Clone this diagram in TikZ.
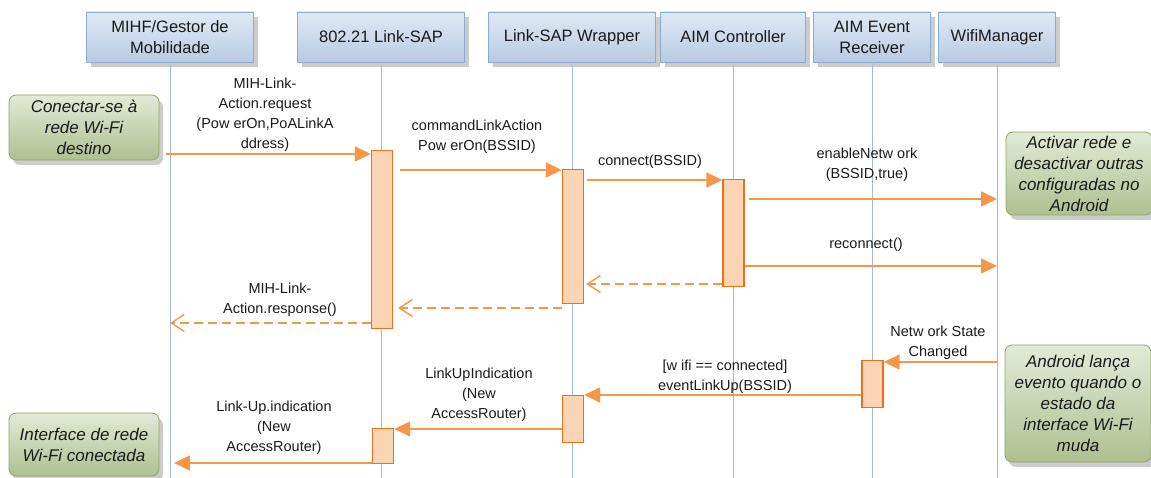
\documentclass[tikz,border=0pt]{standalone}
\usepackage{fontspec}
\setmainfont{Liberation Sans}
\usetikzlibrary{arrows.meta,shadows}

\definecolor{hdrTop}{HTML}{E0E9F4}
\definecolor{hdrMid}{HTML}{CCDAEC}
\definecolor{hdrBot}{HTML}{B8CBE3}
\definecolor{hdrLine}{HTML}{8FAAD0}
\definecolor{lifeCol}{HTML}{A3BAD8}
\definecolor{msgCol}{HTML}{F79646}
\definecolor{actFill}{HTML}{FBD4B4}
\definecolor{actLine}{HTML}{E8711A}
\definecolor{noteTop}{HTML}{E2EAD6}
\definecolor{noteMid}{HTML}{CAD7B4}
\definecolor{noteBot}{HTML}{AEC091}
\definecolor{noteLine}{HTML}{8FA46B}
\definecolor{txtCol}{HTML}{1A1A1A}

\begin{document}
\begin{tikzpicture}[x=1pt,y=-1pt,
  header/.style={draw=hdrLine, line width=0.8pt, top color=hdrTop, middle color=hdrMid,
    bottom color=hdrBot, minimum height=50pt, inner sep=2pt, align=center,
    text=txtCol, font=\fontsize{16.5}{21}\selectfont,
    drop shadow={shadow xshift=4pt, shadow yshift=-5pt, opacity=0.4}},
  lifeline/.style={draw=lifeCol, line width=0.9pt},
  actbox/.style={draw=actLine, fill=actFill, line width=1.4pt, minimum width=21pt,
    inner sep=0pt, anchor=north},
  msg/.style={draw=msgCol, line width=1.6pt, -{Triangle[length=16pt,width=15pt]}},
  ret/.style={draw=msgCol, line width=1.4pt, dash pattern=on 9pt off 5pt,
    -{Straight Barb[length=13pt,width=17pt]}},
  lbl/.style={align=center, text=txtCol, font=\fontsize{14.5}{20}\selectfont, inner sep=0pt},
  note/.style={draw=noteLine, line width=0.8pt, rounded corners=7pt,
    top color=noteTop, middle color=noteMid, bottom color=noteBot, align=center,
    inner sep=0pt, text=txtCol, font=\fontsize{17}{21}\itshape\selectfont,
    drop shadow={shadow xshift=4pt, shadow yshift=-5pt, opacity=0.4}}
]
\useasboundingbox (0,0) rectangle (1151,478);

% participants
\node[header, minimum width=167pt] (mihf) at (170,37) {MIHF/Gestor de\\Mobilidade};
\node[header, minimum width=167pt] (sap)  at (381,37) {802.21 Link-SAP};
\node[header, minimum width=167pt] (wrap) at (572,37) {Link-SAP Wrapper};
\node[header, minimum width=145pt] (ctrl) at (733,37) {AIM Controller};
\node[header, minimum width=117pt] (evt)  at (872,37) {AIM Event\\Receiver};
\node[header, minimum width=117pt] (wifi) at (997,37) {WifiManager};

% lifelines
\foreach \p in {mihf,sap,wrap,ctrl,evt,wifi}
  \draw[lifeline] (\p.south) -- (\p.south |- 0,478);

% activations
\node[actbox, minimum height=178pt] (sap1)  at (382,150) {};
\node[actbox, minimum height=134pt] (wrap1) at (573,169) {};
\node[actbox, minimum height=107pt] (ctrl1) at (733.5,179) {};
\node[actbox, minimum height=47pt]  (evt1)  at (872.5,360) {};
\node[actbox, minimum height=47pt]  (wrap2) at (573,395) {};
\node[actbox, minimum height=35pt]  (sap2)  at (383,428) {};

% notes
\node[note, minimum width=150pt, minimum height=65pt] (cn) at (84,127.5)
  {Conectar-se à\\rede Wi-Fi\\destino};
\node[note, minimum width=146pt, minimum height=83pt] (an) at (1079,173.5)
  {Activar rede e\\desactivar outras\\configuradas no\\Android};
\node[note, minimum width=146pt, minimum height=117pt] (ev) at (1078,403.5)
  {Android lança\\evento quando o\\estado da\\interface Wi-Fi\\muda};
\node[note, minimum width=150pt, minimum height=63pt] (ifc) at (84,444.5)
  {Interface de rede\\Wi-Fi conectada};

% messages
\coordinate (start) at ([xshift=7pt]cn.east |- 0,154);
\draw[msg] (start) -- (sap1.west |- 0,154);
\node[lbl] (l1) at (265,115) {MIH-Link-\\Action.request\\(Pow erOn,PoALinkA\\ddress)};

\draw[msg] ([xshift=7pt]sap1.east |- 0,170) -- (wrap1.west |- 0,170);
\node[lbl] (l2) at (477,137) {commandLinkAction\\Pow erOn(BSSID)};

\draw[msg] ([xshift=3pt]wrap1.east |- 0,180) -- (ctrl1.west |- 0,180);
\node[lbl] (l3) at (650,162) {connect(BSSID)};

\draw[msg] ([xshift=4pt]ctrl1.east |- 0,199) -- (wifi.south |- 0,199);
\node[lbl] (l4) at (867,165) {enableNetw ork\\(BSSID,true)};

\draw[msg] (ctrl1.east |- 0,266) -- (wifi.south |- 0,266);
\node[lbl] (l5) at (866,245) {reconnect()};

\draw[ret] (ctrl1.west |- 0,284) -- ([xshift=2pt]wrap1.east |- 0,284);
\draw[ret] (wrap1.west |- 0,308) -- ([xshift=5pt]sap1.east |- 0,308);
\draw[ret] (sap1.west |- 0,323) -- (mihf.south |- 0,323);
\node[lbl] (l8) at (280,299.5) {MIH-Link-\\Action.response()};

\draw[msg] (wifi.south |- 0,362) -- (evt1.east |- 0,362);
\node[lbl] (l9) at (938,343) {Netw ork State\\Changed};

\draw[msg] (evt1.west |- 0,395) -- (wrap2.east |- 0,395);
\node[lbl] (l10) at (725,377) {[w ifi == connected]\\eventLinkUp(BSSID)};

\draw[msg] (wrap2.west |- 0,429) -- (sap2.east |- 0,429);
\node[lbl] (l11) at (479,394.5) {LinkUpIndication\\(New\\AccessRouter)};

\draw[msg] (sap2.west |- 0,463) -- ([xshift=4pt]mihf.south |- 0,463);
\node[lbl] (l12) at (274,428) {Link-Up.indication\\(New\\AccessRouter)};
\end{tikzpicture}
\end{document}
